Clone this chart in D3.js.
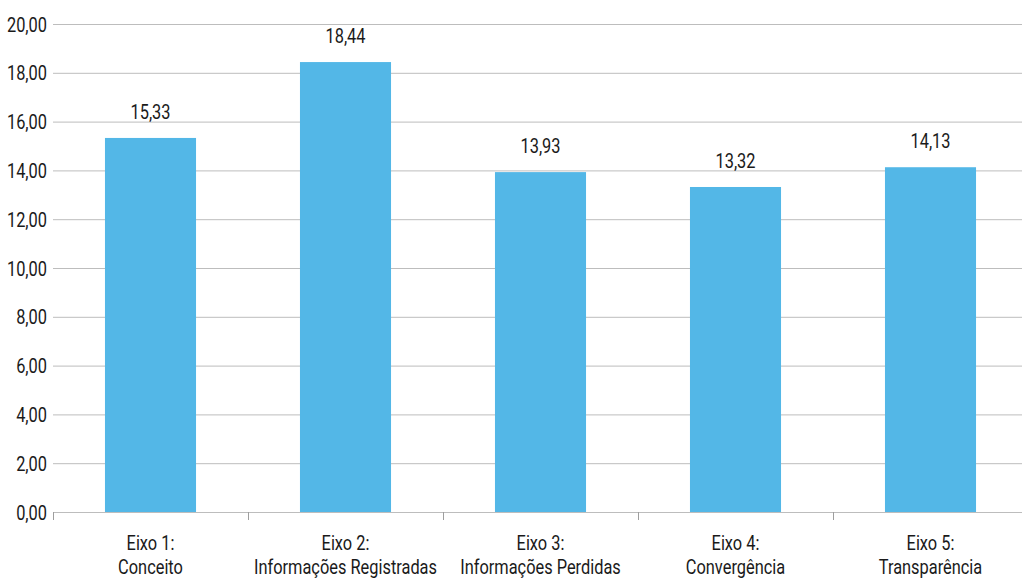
<!DOCTYPE html>
<html>
<head>
<meta charset="utf-8">
<script src="https://cdn.jsdelivr.net/npm/d3@7"></script>
<style>
  body { margin: 0; background: #fff; }
  svg text { font-family: "Roboto", "DejaVu Sans Condensed", sans-serif; fill: #1a1a1a; }
</style>
</head>
<body>
<div id="chart"></div>
<script>
const categories = ["Eixo 1:|Conceito", "Eixo 2:|Informações Registradas", "Eixo 3:|Informações Perdidas", "Eixo 4:|Convergência", "Eixo 5:|Transparência"];
const values = [15.33, 18.44, 13.93, 13.32, 14.13];
const yTicks = [0, 2, 4, 6, 8, 10, 12, 14, 16, 18, 20];

const width = 1022, height = 579;
const margin = { top: 24, right: -6, bottom: 67, left: 53 };
const squeeze = 0.78; // condensed look

const fmt = v => d3.format(".2f")(v).replace(".", ",");

const svg = d3.select("#chart").append("svg")
  .attr("width", width)
  .attr("height", height);

const x = d3.scaleBand()
  .domain(categories)
  .range([margin.left, width - margin.right])
  .paddingInner(0.533)
  .paddingOuter(0.2665);

const y = d3.scaleLinear()
  .domain([0, 20])
  .range([height - margin.bottom, margin.top]);

// gridlines
svg.append("g")
  .selectAll("line")
  .data(yTicks)
  .join("line")
  .attr("x1", margin.left)
  .attr("x2", width)
  .attr("y1", d => y(d) + 0.5)
  .attr("y2", d => y(d) + 0.5)
  .attr("stroke", "#bdbdbd")
  .attr("stroke-width", 1);

// y labels
svg.append("g")
  .selectAll("text")
  .data(yTicks)
  .join("text")
  .attr("transform", d => `translate(${margin.left - 6},${y(d)}) scale(${squeeze},1)`)
  .attr("dy", "0.36em")
  .attr("text-anchor", "end")
  .attr("font-size", 21)
  .text(fmt);

// bars
svg.append("g")
  .selectAll("rect")
  .data(values)
  .join("rect")
  .attr("x", (d, i) => x(categories[i]))
  .attr("width", x.bandwidth())
  .attr("y", d => y(d))
  .attr("height", d => y(0) - y(d))
  .attr("fill", "#53b7e7");

// value labels
svg.append("g")
  .selectAll("text")
  .data(values)
  .join("text")
  .attr("transform", (d, i) => `translate(${x(categories[i]) + x.bandwidth() / 2},${y(d) - 19}) scale(${squeeze},1)`)
  .attr("text-anchor", "middle")
  .attr("font-size", 21)
  .text(fmt);

// x axis ticks at band boundaries
const bounds = categories.map(c => x(c) - x.step() * x.paddingInner() / 2);
svg.append("g")
  .selectAll("line")
  .data(bounds)
  .join("line")
  .attr("x1", d => Math.round(d) + 0.5)
  .attr("x2", d => Math.round(d) + 0.5)
  .attr("y1", y(0))
  .attr("y2", y(0) + 8)
  .attr("stroke", "#9e9e9e");

// category labels
const labels = svg.append("g")
  .selectAll("text")
  .data(categories)
  .join("text")
  .attr("text-anchor", "middle")
  .attr("font-size", 21)
  .attr("transform", d => `translate(${x(d) + x.bandwidth() / 2},${y(0) + 38}) scale(${squeeze},1)`);

labels.selectAll("tspan")
  .data(d => d.split("|"))
  .join("tspan")
  .attr("x", 0)
  .attr("y", (d, i) => i * 24)
  .text(d => d);
</script>
</body>
</html>
